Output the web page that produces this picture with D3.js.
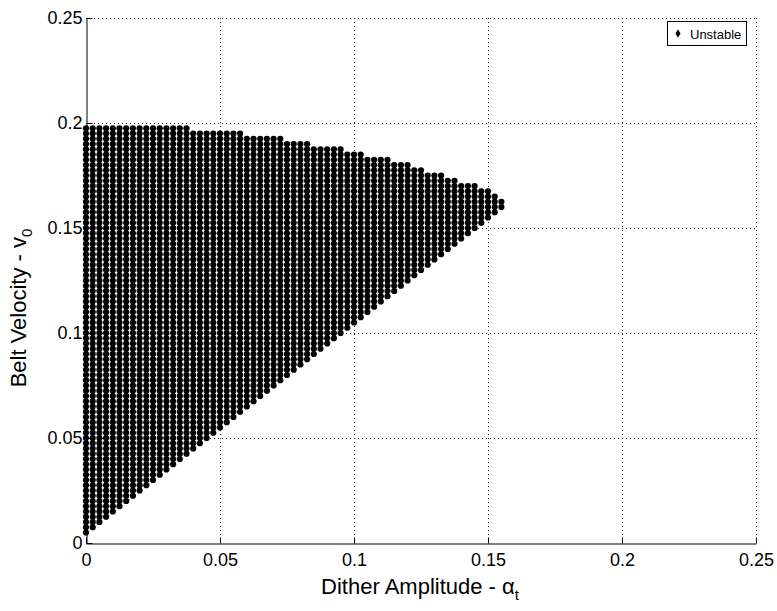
<!DOCTYPE html>
<html>
<head>
<meta charset="utf-8">
<script src="https://cdn.jsdelivr.net/npm/d3@7/dist/d3.min.js"></script>
<style>
html,body{margin:0;padding:0;background:#fff;}
svg{display:block;}
text{font-family:"Liberation Sans",Arial,Helvetica,sans-serif;fill:#000;}
</style>
</head>
<body>
<svg id="chart" width="777" height="611"></svg>
<script>
// ---- data ----
const xTicks = [0, 0.05, 0.1, 0.15, 0.2, 0.25];
const yTicks = [0, 0.05, 0.1, 0.15, 0.2, 0.25];
const xTickLabels = ["0", "0.05", "0.1", "0.15", "0.2", "0.25"];
const yTickLabels = ["0", "0.05", "0.1", "0.15", "0.2", "0.25"];
const seriesName = "Unstable";
const xLabel = "Dither Amplitude - ";
const xLabelSym = "α";
const xLabelSub = "t";
const yLabel = "Belt Velocity - v";
const yLabelSub = "0";
const vStep = 0.0025;
// grid columns of the sweep (dither amplitude)
const alphaCols = [0, 0.0025, 0.005, 0.0075, 0.01, 0.0125, 0.015, 0.0175, 0.02, 0.0225,
  0.025, 0.0275, 0.03, 0.0325, 0.035, 0.0375, 0.04, 0.0425, 0.045, 0.0475,
  0.05, 0.0525, 0.055, 0.0575, 0.06, 0.0625, 0.065, 0.0675, 0.07, 0.0725,
  0.075, 0.0775, 0.08, 0.0825, 0.085, 0.0875, 0.09, 0.0925, 0.095, 0.0975,
  0.1, 0.1025, 0.105, 0.1075, 0.11, 0.1125, 0.115, 0.1175, 0.12, 0.1225,
  0.125, 0.1275, 0.13, 0.1325, 0.135, 0.1375, 0.14, 0.1425, 0.145, 0.1475,
  0.15, 0.1525, 0.155];
// lowest unstable belt velocity in each column
const vLow = [0.005, 0.0075, 0.01, 0.0125, 0.015, 0.0175, 0.02, 0.0225, 0.025, 0.0275,
  0.03, 0.0325, 0.035, 0.0375, 0.04, 0.0425, 0.045, 0.0475, 0.05, 0.0525,
  0.055, 0.0575, 0.06, 0.0625, 0.065, 0.0675, 0.07, 0.0725, 0.075, 0.0775,
  0.08, 0.0825, 0.085, 0.0875, 0.09, 0.0925, 0.095, 0.0975, 0.1, 0.1025,
  0.105, 0.1075, 0.11, 0.1125, 0.115, 0.1175, 0.12, 0.1225, 0.125, 0.1275,
  0.13, 0.1325, 0.135, 0.1375, 0.14, 0.1425, 0.145, 0.1475, 0.15, 0.1525,
  0.155, 0.1575, 0.16];
// highest unstable belt velocity in each column
const vHigh = [0.1975, 0.1975, 0.1975, 0.1975, 0.1975, 0.1975, 0.1975, 0.1975, 0.1975, 0.1975,
  0.1975, 0.1975, 0.1975, 0.1975, 0.1975, 0.1975, 0.195, 0.195, 0.195, 0.195,
  0.195, 0.195, 0.195, 0.195, 0.1925, 0.1925, 0.1925, 0.1925, 0.1925, 0.1925,
  0.19, 0.19, 0.19, 0.19, 0.1875, 0.1875, 0.1875, 0.1875, 0.1875, 0.185,
  0.185, 0.185, 0.1825, 0.1825, 0.1825, 0.1825, 0.18, 0.18, 0.18, 0.1775,
  0.1775, 0.175, 0.175, 0.175, 0.1725, 0.1725, 0.17, 0.17, 0.17, 0.1675,
  0.1675, 0.165, 0.1625];

// ---- expand the sweep grid into points ----
const points = [];
alphaCols.forEach((a, i) => {
  const n = Math.round((vHigh[i] - vLow[i]) / vStep);
  for (let k = 0; k <= n; k++) points.push([a, vLow[i] + k * vStep]);
});

// ---- layout ----
const svg = d3.select("#chart");
const L = 86, R = 756, T = 18, B = 543;
const x = d3.scaleLinear().domain([0, 0.25]).range([L, R]);
const y = d3.scaleLinear().domain([0, 0.25]).range([B, T]);

// grid
const grid = svg.append("g").attr("stroke", "#222").attr("stroke-width", 1)
  .attr("stroke-dasharray", "1,3").attr("shape-rendering", "crispEdges");
xTicks.filter(t => t > 0).forEach(t => {
  grid.append("line").attr("x1", Math.round(x(t)) + 0.5).attr("x2", Math.round(x(t)) + 0.5)
    .attr("y1", B).attr("y2", T);
});
yTicks.filter(t => t > 0).forEach(t => {
  grid.append("line").attr("y1", Math.round(y(t)) + 0.5).attr("y2", Math.round(y(t)) + 0.5)
    .attr("x1", L).attr("x2", R);
});

// points
svg.append("g").selectAll("circle").data(points).join("circle")
  .attr("cx", d => x(d[0])).attr("cy", d => y(d[1])).attr("r", 3.1).attr("fill", "#000");

// axes
const fs = 18;
const xAxis = d3.axisBottom(x).tickValues(xTicks).tickFormat((d, i) => xTickLabels[i])
  .tickSizeInner(-6).tickSizeOuter(0).tickPadding(10);
const gx = svg.append("g").attr("transform", `translate(0,${B + 0.5})`).call(xAxis);
const yAxis = d3.axisLeft(y).tickValues(yTicks).tickFormat((d, i) => yTickLabels[i])
  .tickSizeInner(-6).tickSizeOuter(0).tickPadding(4);
const gy = svg.append("g").attr("transform", `translate(${L + 0.5},0)`).call(yAxis);
[gx, gy].forEach(g => {
  g.select(".domain").attr("stroke", "#000");
  g.selectAll(".tick line").attr("stroke", "#000");
  g.selectAll("text").attr("font-size", fs).attr("font-family", '"Liberation Sans",Arial,sans-serif').attr("fill", "#000");
});

// axis labels
const xl = svg.append("text").attr("x", 420).attr("y", 594).attr("text-anchor", "middle").attr("font-size", 22);
xl.append("tspan").text(xLabel);
xl.append("tspan").text(xLabelSym);
xl.append("tspan").attr("dy", 6).attr("font-size", 15).text(xLabelSub);

const yl = svg.append("text").attr("transform", "translate(26,308) rotate(-90)")
  .attr("text-anchor", "middle").attr("font-size", 22);
yl.append("tspan").text(yLabel);
yl.append("tspan").attr("dy", 6).attr("font-size", 15).text(yLabelSub);

// legend
const lg = svg.append("g");
lg.append("rect").attr("x", 667.5).attr("y", 21.5).attr("width", 79).attr("height", 24)
  .attr("fill", "#fff").attr("stroke", "#000").attr("stroke-width", 1);
lg.append("path").attr("d", d3.symbol(d3.symbolDiamond, 22)()).attr("transform", "translate(678,33.5)").attr("fill", "#000");
lg.append("text").attr("x", 690).attr("y", 38.5).attr("font-size", 13).text(seriesName);
</script>
</body>
</html>
